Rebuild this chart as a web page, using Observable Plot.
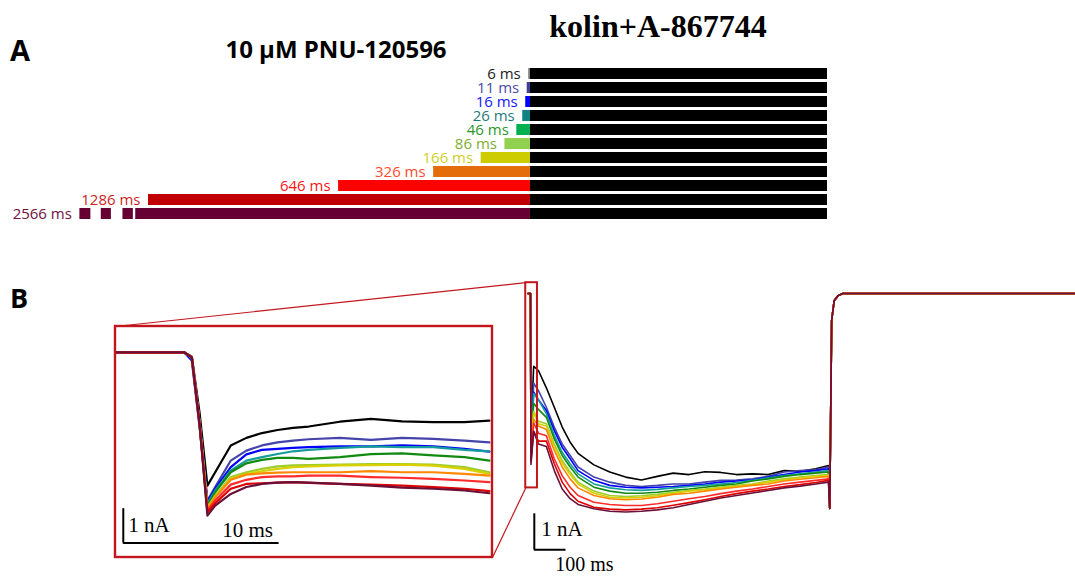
<!DOCTYPE html>
<html>
<head>
<meta charset="utf-8">
<script src="https://cdn.jsdelivr.net/npm/d3@7"></script>
<script src="https://cdn.jsdelivr.net/npm/@observablehq/plot@0.6"></script>
<style>
html, body { margin: 0; padding: 0; background: #fff; }
#fig { position: relative; width: 1075px; height: 576px; overflow: hidden; background: #fff; }
#fig > svg { position: absolute; left: 0; top: 0; }
</style>
</head>
<body>
<div id="fig"></div>
<script>
// ---------- DATA ----------
const durations = [6, 11, 16, 26, 46, 86, 166, 326, 646, 1286, 2566];
const durationLabels = ["6 ms", "11 ms", "16 ms", "26 ms", "46 ms", "86 ms", "166 ms", "326 ms", "646 ms", "1286 ms", "2566 ms"];
const barColors = ["#7f7f7f", "#3f3f96", "#0000ff", "#138282", "#00b050", "#92d050", "#cccc00", "#e46c0a", "#ff0000", "#c00000", "#660033"];
const labelColors = ["#1a1a1a", "#4b4ba6", "#1414ff", "#1f7a7a", "#2a962a", "#7fae2e", "#cfcf1c", "#ff4b2b", "#ff1414", "#cc1f1f", "#6e1040"];
const traceColors = ["#000000", "#4444aa", "#0000ff", "#179c9c", "#108a10", "#9ccd2c", "#d8d000", "#ff8800", "#ff2a2a", "#dd0000", "#6a1038"];
const applicationMs = 1000;            // kolin + A-867744 application
const axisBreakMs = -1329;             // longer pre-applications are drawn broken
const breakDashes = [[-1517, -1480], [-1445, -1411], [-1372, -1337]];

// Panel B inset (ms from application onset, nA)
const insetTime = [-4.4, 0, 0.5, 1, 1.5, 2, 3, 4, 5, 6, 7, 8, 10, 12, 14, 16, 18, 19.6];
const insetCurrent = [
  [0, 0, -0.13, -1.77, -3.88, -3.49, -2.71, -2.49, -2.35, -2.26, -2.20, -2.16, -2.02, -1.94, -2.01, -2.03, -2.03, -1.99],
  [0, 0, -0.15, -1.99, -4.31, -3.92, -3.15, -2.86, -2.71, -2.62, -2.57, -2.53, -2.49, -2.55, -2.49, -2.52, -2.57, -2.62],
  [0, 0, -0.24, -2.18, -4.36, -3.97, -3.34, -2.97, -2.84, -2.81, -2.78, -2.76, -2.74, -2.74, -2.71, -2.74, -2.81, -2.89],
  [0, 0, -0.16, -2.08, -4.41, -4.02, -3.44, -3.15, -3.05, -2.96, -2.88, -2.84, -2.78, -2.74, -2.76, -2.76, -2.84, -2.88],
  [0, 0, -0.15, -2.08, -4.46, -4.07, -3.49, -3.23, -3.13, -3.07, -3.07, -3.10, -3.05, -2.96, -2.94, -3.00, -3.05, -3.15],
  [0, 0, -0.15, -2.08, -4.51, -4.17, -3.63, -3.49, -3.39, -3.32, -3.29, -3.28, -3.27, -3.25, -3.25, -3.27, -3.34, -3.49],
  [0, 0, -0.15, -2.08, -4.53, -4.20, -3.68, -3.54, -3.46, -3.39, -3.34, -3.32, -3.29, -3.28, -3.27, -3.30, -3.39, -3.54],
  [0, 0, -0.15, -2.08, -4.55, -4.22, -3.71, -3.56, -3.52, -3.50, -3.49, -3.49, -3.49, -3.46, -3.49, -3.49, -3.54, -3.59],
  [0, 0, -0.15, -2.10, -4.60, -4.31, -3.85, -3.71, -3.63, -3.61, -3.61, -3.59, -3.59, -3.63, -3.65, -3.68, -3.73, -3.78],
  [0, 0, -0.15, -2.10, -4.65, -4.39, -3.97, -3.83, -3.81, -3.79, -3.78, -3.80, -3.83, -3.85, -3.88, -3.92, -3.97, -4.04],
  [0, 0, -0.15, -2.13, -4.75, -4.46, -4.12, -3.92, -3.83, -3.79, -3.78, -3.79, -3.83, -3.88, -3.94, -3.97, -4.02, -4.10]
];

// Panel B main sweep (ms from application onset, nA)
const mainTime = [-8, 0, 1.5, 10, 25, 50, 75, 100, 125, 150, 200, 250, 300, 350, 400, 450, 500, 550, 600, 650, 700, 750, 800, 850, 900, 940, 944, 950, 958, 970, 985, 1720];
const mainCurrent = [
  [0, 0, -3.88, -2.02, -2.14, -2.62, -3.16, -3.71, -4.13, -4.44, -4.76, -4.96, -5.10, -5.18, -5.08, -4.99, -5.03, -4.95, -4.97, -5.03, -5.01, -5.03, -4.92, -4.94, -4.87, -4.78, -5.97, -0.75, -0.20, -0.06, 0, 0],
  [0, 0, -4.31, -2.49, -2.70, -3.16, -3.71, -4.18, -4.50, -4.82, -5.10, -5.24, -5.33, -5.36, -5.33, -5.29, -5.29, -5.24, -5.19, -5.18, -5.15, -5.08, -4.96, -4.92, -4.90, -4.82, -5.97, -0.75, -0.20, -0.06, 0, 0],
  [0, 0, -4.36, -2.74, -2.95, -3.25, -3.81, -4.27, -4.59, -4.92, -5.19, -5.33, -5.38, -5.40, -5.38, -5.36, -5.33, -5.29, -5.24, -5.21, -5.18, -5.10, -5.03, -4.96, -4.92, -4.87, -5.97, -0.75, -0.20, -0.06, 0, 0],
  [0, 0, -4.41, -2.78, -2.95, -3.34, -3.94, -4.41, -4.73, -5.01, -5.29, -5.40, -5.45, -5.47, -5.44, -5.40, -5.36, -5.33, -5.29, -5.25, -5.19, -5.12, -5.06, -5.01, -4.96, -4.92, -5.97, -0.75, -0.20, -0.06, 0, 0],
  [0, 0, -4.46, -3.05, -3.22, -3.44, -4.04, -4.50, -4.82, -5.10, -5.38, -5.49, -5.55, -5.55, -5.52, -5.47, -5.43, -5.38, -5.33, -5.29, -5.21, -5.15, -5.08, -5.03, -4.99, -4.96, -5.97, -0.75, -0.20, -0.06, 0, 0],
  [0, 0, -4.51, -3.27, -3.55, -3.62, -4.18, -4.64, -4.96, -5.24, -5.49, -5.61, -5.64, -5.62, -5.58, -5.52, -5.47, -5.43, -5.38, -5.33, -5.29, -5.21, -5.15, -5.10, -5.06, -5.03, -5.97, -0.75, -0.20, -0.06, 0, 0],
  [0, 0, -4.53, -3.29, -3.62, -3.68, -4.25, -4.71, -5.03, -5.29, -5.55, -5.66, -5.68, -5.66, -5.62, -5.55, -5.49, -5.45, -5.40, -5.36, -5.31, -5.24, -5.18, -5.12, -5.08, -5.06, -5.97, -0.75, -0.20, -0.06, 0, 0],
  [0, 0, -4.55, -3.49, -3.68, -3.78, -4.36, -4.82, -5.15, -5.40, -5.61, -5.70, -5.73, -5.71, -5.66, -5.58, -5.55, -5.49, -5.43, -5.38, -5.33, -5.29, -5.21, -5.16, -5.12, -5.08, -5.97, -0.75, -0.20, -0.06, 0, 0],
  [0, 0, -4.60, -3.59, -3.88, -3.95, -4.59, -5.06, -5.38, -5.61, -5.80, -5.86, -5.89, -5.89, -5.84, -5.77, -5.70, -5.64, -5.56, -5.49, -5.43, -5.36, -5.29, -5.24, -5.19, -5.15, -5.97, -0.75, -0.20, -0.06, 0, 0],
  [0, 0, -4.65, -3.83, -4.10, -4.10, -4.73, -5.24, -5.56, -5.77, -5.94, -5.99, -6.01, -5.99, -5.95, -5.88, -5.81, -5.73, -5.64, -5.56, -5.49, -5.43, -5.36, -5.31, -5.25, -5.19, -5.97, -0.75, -0.20, -0.06, 0, 0],
  [0, 0, -4.75, -3.83, -4.18, -4.25, -4.92, -5.43, -5.70, -5.86, -5.98, -6.05, -6.07, -6.05, -6.01, -5.95, -5.86, -5.77, -5.68, -5.61, -5.54, -5.47, -5.40, -5.35, -5.29, -5.24, -5.97, -0.75, -0.20, -0.06, 0, 0]
];

// windows (data units) for the zoom box and inset view
const zoomBox = {t1: -15, t2: 22, i1: 0.3, i2: -5.4};
const insetView = {t1: -4.4, t2: 19.8, i1: 0.75, i2: -5.97};
const mainScaleBar = {t: 12, i: -7.12};
const insetScaleBar = {t: -3.9, i: -5.55};

// ---------- DRAWING ----------
const W = 1075, H = 576;
const fig = document.getElementById("fig");
const RED = "#c3161c";
const SERIF = "Liberation Serif, Times New Roman, serif";
const SANS = "Open Sans, Noto Sans, sans-serif";
const base = {width: W, height: H, margin: 0, style: {background: "transparent", overflow: "visible"}};

// Panel A
const rows = durations.map((d, k) => ({
  label: durationLabels[k], d,
  start: Math.max(-d, axisBreakMs),
  labelAt: -d < axisBreakMs ? breakDashes[0][0] : -d,
  barColor: barColors[k], labelColor: labelColors[k],
  zero: 0, app: applicationMs
}));
const dashRows = rows.filter(r => -r.d < axisBreakMs)
  .flatMap(r => breakDashes.map(([a, b]) => ({label: r.label, a, b, barColor: r.barColor})));

const panelA = Plot.plot({
  ...base,
  x: {domain: [-1286, 1000], range: [148, 827], axis: null},
  y: {type: "band", domain: durationLabels, range: [64.5, 222.2], paddingInner: 0.25, paddingOuter: 0.125, axis: null},
  color: {type: "identity"},
  marks: [
    Plot.barX(rows, {x1: "zero", x2: "app", y: "label", fill: "#000"}),
    Plot.barX(rows, {x1: "start", x2: "zero", y: "label", fill: "barColor"}),
    Plot.barX(dashRows, {x1: "a", x2: "b", y: "label", fill: "barColor"}),
    Plot.text(rows, {x: "labelAt", y: "label", text: "label", fill: "labelColor", textAnchor: "end", dx: -8, fontSize: 15, fontFamily: SANS})
  ]
});
fig.appendChild(panelA);

// Main sweep
const mainData = traceColors.flatMap((c, k) => mainTime.map((t, j) => ({k, t, i: mainCurrent[k][j], c})));
const mainPlot = Plot.plot({
  ...base,
  x: {domain: [0, 1000], range: [530, 847], axis: null},
  y: {domain: [0, -6], range: [293, 509], axis: null},
  color: {type: "identity"},
  marks: [
    Plot.line(mainData, {x: "t", y: "i", z: "k", stroke: "c", strokeWidth: 1.6, strokeLinejoin: "round"}),
    Plot.rect([zoomBox], {x1: "t1", x2: "t2", y1: "i1", y2: "i2", fill: "none", stroke: RED, strokeWidth: 2}),
    Plot.ruleX([mainScaleBar], {x: "t", y1: "i", y2: d => d.i + 1, stroke: "#000", strokeWidth: 2}),
    Plot.ruleY([mainScaleBar], {y: "i", x1: "t", x2: d => d.t + 100, stroke: "#000", strokeWidth: 2}),
    Plot.text([mainScaleBar], {x: "t", y: "i", text: () => "1 nA", textAnchor: "start", lineAnchor: "bottom", dx: 7, dy: -14, fontSize: 21, fontFamily: SERIF, fill: "#000"}),
    Plot.text([mainScaleBar], {x: "t", y: "i", text: () => "100 ms", textAnchor: "start", lineAnchor: "bottom", dx: 21, dy: 21, fontSize: 20, fontFamily: SERIF, fill: "#000"})
  ]
});
fig.appendChild(mainPlot);

// Inset
const insetData = traceColors.flatMap((c, k) => insetTime.map((t, j) => ({k, t, i: insetCurrent[k][j], c})));
const insetPlot = Plot.plot({
  ...base,
  x: {domain: [insetView.t1, insetView.t2], range: [115, 492], axis: null},
  y: {domain: [insetView.i1, insetView.i2], range: [326, 557], axis: null},
  color: {type: "identity"},
  marks: [
    Plot.line(insetData, {x: "t", y: "i", z: "k", stroke: "c", strokeWidth: 2.2, strokeLinejoin: "round"}),
    Plot.rect([insetView], {x1: "t1", x2: "t2", y1: "i1", y2: "i2", fill: "none", stroke: RED, strokeWidth: 2.4}),
    Plot.ruleX([insetScaleBar], {x: "t", y1: "i", y2: d => d.i + 1, stroke: "#000", strokeWidth: 2}),
    Plot.ruleY([insetScaleBar], {y: "i", x1: "t", x2: d => d.t + 10, stroke: "#000", strokeWidth: 2}),
    Plot.text([insetScaleBar], {x: "t", y: "i", text: () => "1 nA", textAnchor: "start", lineAnchor: "bottom", dx: 5, dy: -11, fontSize: 21, fontFamily: SERIF, fill: "#000"}),
    Plot.text([insetScaleBar], {x: "t", y: "i", text: () => "10 ms", textAnchor: "start", lineAnchor: "bottom", dx: 99, dy: -6, fontSize: 21, fontFamily: SERIF, fill: "#000"})
  ]
});
fig.appendChild(insetPlot);

// Connectors between zoom box and inset
const mx = mainPlot.scale("x"), my = mainPlot.scale("y");
const ix = insetPlot.scale("x"), iy = insetPlot.scale("y");
const links = [
  {x1: ix.apply(insetView.t1), y1: iy.apply(insetView.i1), x2: mx.apply(zoomBox.t1), y2: my.apply(zoomBox.i1)},
  {x1: ix.apply(insetView.t2), y1: iy.apply(insetView.i2), x2: mx.apply(zoomBox.t1), y2: my.apply(zoomBox.i2)}
];
const connectors = Plot.plot({
  ...base,
  x: {type: "identity", axis: null},
  y: {type: "identity", axis: null},
  marks: [Plot.link(links, {x1: "x1", y1: "y1", x2: "x2", y2: "y2", stroke: RED, strokeWidth: 1.2})]
});
fig.appendChild(connectors);

// Titles and panel letters
const ns = "http://www.w3.org/2000/svg";
const titles = document.createElementNS(ns, "svg");
titles.setAttribute("width", W); titles.setAttribute("height", H);
titles.innerHTML = `
  <text x="10" y="61" font-family="${SANS}" font-weight="700" font-size="29" fill="#000">A</text>
  <text x="336" y="58" text-anchor="middle" font-family="${SANS}" font-weight="700" font-size="24" fill="#000">10 μM PNU-120596</text>
  <text x="658" y="37" text-anchor="middle" font-family="${SERIF}" font-weight="700" font-size="32" fill="#000">kolin+A-867744</text>
  <text x="10" y="308" font-family="${SANS}" font-weight="700" font-size="27" fill="#000">B</text>`;
fig.appendChild(titles);
</script>
</body>
</html>
